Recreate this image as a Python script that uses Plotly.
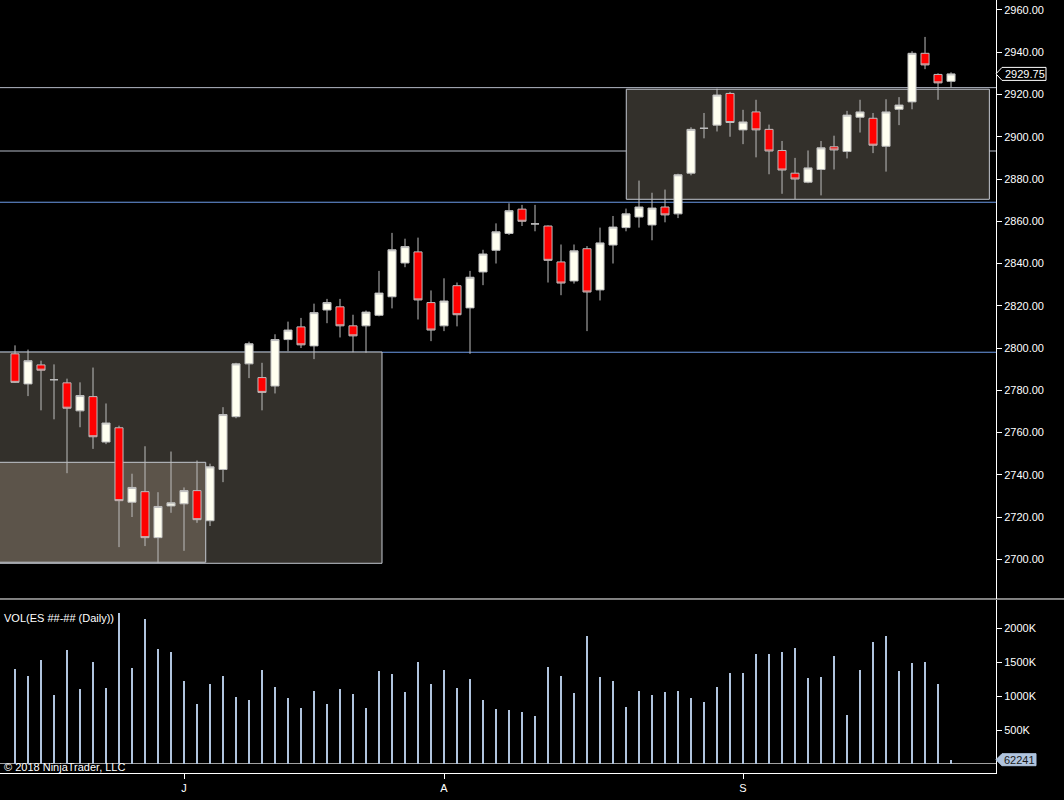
import plotly.graph_objects as go

# ES daily bars, mid June -> late September 2018
opens = [2797.25, 2783.0, 2792.0, 2785.0, 2783.5, 2770.25, 2777.0, 2755.5, 2762.25, 2727.0,
         2732.0, 2710.25, 2725.25, 2726.25, 2732.5, 2718.25, 2742.5, 2767.5, 2792.5, 2786.0,
         2782.0, 2804.0, 2810.0, 2801.0, 2818.0, 2819.5, 2810.5, 2810.5, 2815.5, 2824.25,
         2840.25, 2845.5, 2821.5, 2810.5, 2829.5, 2819.0, 2836.0, 2846.25, 2854.25, 2865.75,
         2858.75, 2857.75, 2840.75, 2831.75, 2847.0, 2827.5, 2848.75, 2857.0, 2862.0, 2858.25,
         2866.75, 2863.5, 2882.75, 2904.0, 2905.5, 2920.5, 2903.25, 2911.75, 2903.5, 2893.5,
         2882.75, 2878.5, 2884.5, 2895.25, 2893.0, 2909.25, 2908.75, 2895.5, 2913.0, 2916.5,
         2939.5, 2929.5, 2926.25]
highs = [2801.25, 2799.25, 2794.0, 2792.25, 2785.5, 2783.75, 2790.75, 2773.75, 2763.25, 2740.5,
         2753.5, 2731.75, 2751.0, 2734.0, 2746.75, 2745.25, 2772.0, 2793.0, 2803.0, 2793.0,
         2806.5, 2812.5, 2814.25, 2821.0, 2823.25, 2823.25, 2815.75, 2817.75, 2836.5, 2854.5,
         2851.75, 2852.25, 2827.25, 2833.0, 2831.0, 2836.5, 2846.5, 2859.0, 2868.5, 2867.75,
         2867.75, 2858.0, 2849.0, 2849.0, 2848.25, 2857.0, 2862.5, 2866.0, 2879.25, 2873.5,
         2875.0, 2882.5, 2904.5, 2911.25, 2922.75, 2921.25, 2912.75, 2917.5, 2905.75, 2898.0,
         2890.0, 2893.5, 2898.0, 2900.5, 2912.25, 2917.5, 2911.25, 2917.75, 2918.75, 2940.5,
         2947.25, 2930.0, 2930.5]
lows = [2783.5, 2777.25, 2770.5, 2766.25, 2740.75, 2762.5, 2752.25, 2754.5, 2705.75, 2720.0,
        2706.25, 2698.25, 2722.0, 2704.0, 2717.25, 2715.75, 2736.5, 2766.75, 2785.75, 2770.5,
        2778.5, 2798.5, 2800.0, 2794.75, 2811.75, 2805.0, 2798.0, 2797.75, 2815.0, 2818.75,
        2838.25, 2813.5, 2803.25, 2808.0, 2810.25, 2797.25, 2829.75, 2840.0, 2853.5, 2857.75,
        2855.25, 2831.0, 2825.0, 2830.5, 2808.0, 2822.5, 2840.0, 2855.25, 2857.0, 2851.0,
        2859.5, 2861.5, 2881.75, 2899.25, 2902.5, 2900.0, 2896.5, 2890.25, 2882.25, 2873.0,
        2870.5, 2878.0, 2872.25, 2884.5, 2889.75, 2902.0, 2892.25, 2883.5, 2905.5, 2913.0,
        2932.0, 2917.5, 2923.25]
closes = [2783.75, 2794.0, 2789.5, 2785.0, 2771.5, 2777.5, 2758.0, 2764.5, 2727.75, 2734.0,
          2710.25, 2725.0, 2726.75, 2732.5, 2718.75, 2743.75, 2768.5, 2792.5, 2802.0, 2779.0,
          2804.0, 2808.5, 2801.5, 2816.75, 2821.5, 2810.5, 2805.75, 2817.0, 2826.0, 2846.5,
          2848.0, 2822.75, 2808.5, 2822.25, 2815.75, 2833.5, 2844.5, 2855.0, 2865.0, 2860.0,
          2858.75, 2841.5, 2830.75, 2846.0, 2826.5, 2849.75, 2857.25, 2863.5, 2866.75, 2866.25,
          2863.0, 2882.0, 2903.5, 2904.0, 2919.75, 2906.75, 2907.0, 2903.25, 2893.25, 2884.25,
          2880.0, 2885.25, 2894.75, 2893.75, 2910.25, 2911.75, 2896.0, 2911.75, 2915.0, 2939.5,
          2934.0, 2925.5, 2929.75]
volumes = [1398000, 1294000, 1531000, 1013000, 1680000, 1102000, 1502000, 1116000, 2230000, 1413000,
           2139000, 1694000, 1650000, 1220000, 879000, 1176000, 1294000, 983000, 939000, 1383000,
           1131000, 968000, 820000, 1072000, 879000, 1102000, 1028000, 820000, 1368000, 1324000,
           1057000, 1502000, 1176000, 1383000, 1116000, 1250000, 939000, 805000, 790000, 761000,
           701000, 1428000, 1294000, 1042000, 1887000, 1279000, 1220000, 835000, 1072000, 1013000,
           1057000, 1072000, 968000, 909000, 1131000, 1339000, 1339000, 1620000, 1620000, 1650000,
           1709000, 1265000, 1279000, 1591000, 716000, 1383000, 1798000, 1887000, 1368000, 1487000,
           1502000, 1176000, 62241]

month_ticks = [13, 33, 56]
month_labels = ["J", "A", "S"]
price_ticks = list(range(2700, 2961, 20))
volume_ticks = [500000, 1000000, 1500000, 2000000]
volume_labels = ["500K", "1000K", "1500K", "2000K"]

# drawing objects on the chart: horizontal levels and zones (bar-index span, price span)
gray_levels = [2923.25, 2893.25]
blue_levels = [2869.0, 2798.0]
zones = [(-3, 28.23, 2698.1, 2798.1, "#33302b"),
         (-3, 14.67, 2698.6, 2745.9, "#5c544a"),
         (47.02, 74.95, 2870.4, 2922.5, "#33302b")]

bars = list(range(len(closes)))
last_price = closes[-1]
last_volume = volumes[-1]

fig = go.Figure()
fig.add_trace(go.Candlestick(
    x=bars, open=opens, high=highs, low=lows, close=closes,
    increasing=dict(fillcolor="#fffff0", line=dict(color="#bdbdbd", width=1)),
    decreasing=dict(fillcolor="#ff0000", line=dict(color="#bdbdbd", width=1)),
    whiskerwidth=0, showlegend=False, hoverinfo="skip", xaxis="x", yaxis="y"))
fig.add_trace(go.Bar(
    x=bars, y=volumes, width=0.13, marker=dict(color="#b0c4de", line_width=0),
    showlegend=False, hoverinfo="skip", xaxis="x", yaxis="y2"))

shapes = []
for x0, x1, lo, hi, col in zones:
    shapes.append(dict(type="rect", xref="x", yref="y", x0=x0, x1=x1, y0=lo, y1=hi,
                       fillcolor=col, line=dict(color="#c4c8d0", width=1), layer="below"))
for lvl in gray_levels:
    shapes.append(dict(type="line", xref="paper", yref="y", x0=0, x1=1, y0=lvl, y1=lvl,
                       line=dict(color="#b4bac6", width=1), layer="below"))
for lvl in blue_levels:
    shapes.append(dict(type="line", xref="paper", yref="y", x0=0, x1=1, y0=lvl, y1=lvl,
                       line=dict(color="#6d9be8", width=1), layer="below"))
# pane separator across the whole width
shapes.append(dict(type="line", xref="paper", yref="paper", x0=0, x1=1.07, y0=0.2251, y1=0.2251,
                   line=dict(color="white", width=1)))
# last price / last volume markers on the right axis
shapes.append(dict(type="path", xref="paper", yref="y", xsizemode="pixel", ysizemode="pixel",
                   xanchor=1, yanchor=last_price,
                   path="M0,0 L6,6.5 L50,6.5 L50,-6.5 L6,-6.5 Z",
                   fillcolor="black", line=dict(color="white", width=1)))
shapes.append(dict(type="path", xref="paper", yref="y2", xsizemode="pixel", ysizemode="pixel",
                   xanchor=1, yanchor=last_volume,
                   path="M0,0 L6,6 L40,6 L40,-6 L6,-6 Z",
                   fillcolor="#b0c4de", line=dict(color="#b0c4de", width=1)))

annotations = [
    dict(text="VOL(ES ##-## (Daily))", xref="paper", yref="paper", x=0, y=0.2238,
         xanchor="left", yanchor="top", xshift=2, yshift=-10, showarrow=False,
         font=dict(size=11, color="white")),
    dict(text="© 2018 NinjaTrader, LLC", xref="paper", yref="paper", x=0, y=0,
         xanchor="left", yanchor="bottom", xshift=2, yshift=-2, showarrow=False,
         font=dict(size=11, color="white")),
    dict(text=f"{last_price:.2f}", xref="paper", yref="y", x=1, y=last_price,
         xanchor="left", yanchor="middle", xshift=7, showarrow=False,
         font=dict(size=11, color="white")),
    dict(text=str(last_volume), xref="paper", yref="y2", x=1, y=last_volume,
         xanchor="left", yanchor="middle", xshift=6, showarrow=False,
         font=dict(size=11, color="#1a1a1a")),
]

axis_common = dict(ticks="outside", ticklen=5, tickcolor="white", showline=True,
                   linecolor="white", linewidth=1, showgrid=False, automargin=False,
                   tickfont=dict(size=11, color="white"))

fig.update_layout(
    template="none", width=1064, height=800,
    margin=dict(l=0, r=68, t=0, b=27),
    paper_bgcolor="black", plot_bgcolor="black",
    font=dict(family="Arial, Liberation Sans, sans-serif", size=11, color="white"),
    boxgap=0.38, boxgroupgap=0, showlegend=False, bargap=0,
    xaxis=dict(anchor="y2", range=[-1.154, 75.46], tickvals=month_ticks, ticktext=month_labels,
               zeroline=False, rangeslider=dict(visible=False), **axis_common),
    yaxis=dict(domain=[0.2251, 1], anchor="x", side="right", range=[2681.2, 2964.73],
               tickvals=price_ticks, tickformat=".2f", zeroline=False, **axis_common),
    yaxis2=dict(domain=[0, 0.2238], anchor="x", side="right", range=[-134000, 2417000],
                tickvals=volume_ticks, ticktext=volume_labels,
                zeroline=True, zerolinecolor="#a0a0a0", zerolinewidth=1, **axis_common),
    shapes=shapes, annotations=annotations,
)

# drop the browser's default body margin so the 1064x800 figure fills the window
fig.write_html("out.html", config={"displayModeBar": False},
               post_script="document.body.style.margin='0';"
                           "document.body.style.background='black';")
